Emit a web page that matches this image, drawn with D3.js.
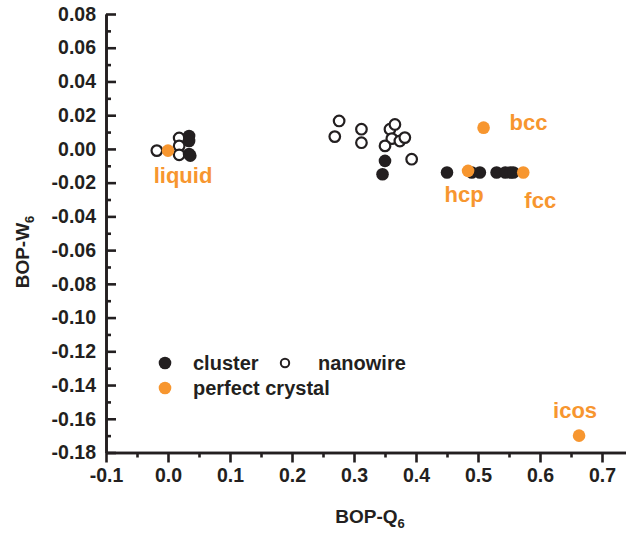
<!DOCTYPE html>
<html>
<head>
<meta charset="utf-8">
<script src="https://cdn.jsdelivr.net/npm/d3@7"></script>
<style>
  html, body { margin: 0; padding: 0; background: #fff; }
  svg { display: block; font-family: "Liberation Sans", Arial, sans-serif; font-weight: bold; }
</style>
</head>
<body>
<svg id="chart" width="626" height="535"></svg>
<script>
// Bond-orientational order parameters: Q6 (x) vs W6 (y)
const clusterQ6 = [0.034, 0.034, 0.034, 0.036, 0.350, 0.346, 0.450, 0.490, 0.503, 0.530, 0.544, 0.552, 0.557];
const clusterW6 = [0.0077, 0.0047, -0.0030, -0.0040, -0.0071, -0.0150, -0.0140, -0.0140, -0.0140, -0.0140, -0.0140, -0.0140, -0.0140];

const nanowireQ6 = [-0.018, 0.018, 0.018, 0.018, 0.276, 0.269, 0.312, 0.312, 0.358, 0.366, 0.361, 0.350, 0.374, 0.382, 0.393];
const nanowireW6 = [-0.0010, 0.0065, 0.0018, -0.0035, 0.0166, 0.0073, 0.0117, 0.0037, 0.0117, 0.0145, 0.0061, 0.0018, 0.0047, 0.0067, -0.0061];

const crystalNames = ["liquid", "hcp", "fcc", "bcc", "icos"];
const crystalQ6 = [0.000, 0.484, 0.573, 0.509, 0.663];
const crystalW6 = [-0.0010, -0.0130, -0.0140, 0.0126, -0.1700];

const xTicks = [-0.1, 0.0, 0.1, 0.2, 0.3, 0.4, 0.5, 0.6, 0.7];
const xTickLabels = ["-0.1", "0.0", "0.1", "0.2", "0.3", "0.4", "0.5", "0.6", "0.7"];
const xMinorTicks = [-0.05, 0.05, 0.15, 0.25, 0.35, 0.45, 0.55, 0.65];
const yTicks = [0.08, 0.06, 0.04, 0.02, 0.00, -0.02, -0.04, -0.06, -0.08, -0.10, -0.12, -0.14, -0.16, -0.18];
const yTickLabels = ["0.08", "0.06", "0.04", "0.02", "0.00", "-0.02", "-0.04", "-0.06", "-0.08", "-0.10", "-0.12", "-0.14", "-0.16", "-0.18"];
const yMinorTicks = [0.07, 0.05, 0.03, 0.01, -0.01, -0.03, -0.05, -0.07, -0.09, -0.11, -0.13, -0.15, -0.17];

const legendLabels = ["cluster", "nanowire", "perfect crystal"];

const INK = "#231f20";
const ORANGE = "#f7962f";

const svg = d3.select("#chart");

const x = d3.scaleLinear().domain([-0.1, 0.74]).range([106, 626.8]);
const y = d3.scaleLinear().domain([-0.18, 0.08]).range([452.5, 14]);

// ---- axes ----
const xAxis = d3.axisBottom(x)
  .tickValues(xTicks)
  .tickFormat((d, i) => xTickLabels[i])
  .tickSizeInner(10).tickSizeOuter(0).tickPadding(6);
const xMinor = d3.axisBottom(x).tickValues(xMinorTicks).tickFormat("").tickSizeInner(5).tickSizeOuter(0);

const yAxis = d3.axisLeft(y)
  .tickValues(yTicks)
  .tickFormat((d, i) => yTickLabels[i])
  .tickSizeInner(-10).tickSizeOuter(0).tickPadding(10);
const yMinor = d3.axisLeft(y).tickValues(yMinorTicks).tickFormat("").tickSizeInner(-5).tickSizeOuter(0);

function styleAxis(g) {
  g.selectAll("path.domain").attr("stroke", INK).attr("stroke-width", 2.6);
  g.selectAll(".tick line").attr("stroke", INK).attr("stroke-width", 2.6);
  g.selectAll(".tick text")
    .attr("fill", INK)
    .style("font-family", "'Liberation Sans', Arial, sans-serif")
    .style("font-weight", "bold")
    .style("font-size", "19.5px");
}

svg.append("g").attr("transform", `translate(0,${y(-0.18)})`).call(xMinor).call(styleAxis);
svg.append("g").attr("transform", `translate(0,${y(-0.18)})`).call(xAxis).call(styleAxis);
svg.append("g").attr("transform", `translate(${x(-0.1)},0)`).call(yMinor).call(styleAxis);
svg.append("g").attr("transform", `translate(${x(-0.1)},0)`).call(yAxis).call(styleAxis);

// ---- axis titles ----
const xTitle = svg.append("text")
  .attr("x", 370).attr("y", 523)
  .attr("text-anchor", "middle")
  .attr("fill", INK).style("font-size", "19px");
xTitle.append("tspan").text("BOP-Q");
xTitle.append("tspan").attr("dy", 5).style("font-size", "13px").text("6");

const yTitle = svg.append("text")
  .attr("transform", "translate(29,252) rotate(-90)")
  .attr("text-anchor", "middle")
  .attr("fill", INK).style("font-size", "19px");
yTitle.append("tspan").text("BOP-W");
yTitle.append("tspan").attr("dy", 5).style("font-size", "13px").text("6");

// ---- points ----
const clusterData = clusterQ6.map((q, i) => ({ q, w: clusterW6[i] }));
const nanowireData = nanowireQ6.map((q, i) => ({ q, w: nanowireW6[i] }));
const crystalData = crystalQ6.map((q, i) => ({ q, w: crystalW6[i], name: crystalNames[i] }));

svg.append("g").selectAll("circle").data(nanowireData).join("circle")
  .attr("cx", d => x(d.q)).attr("cy", d => y(d.w)).attr("r", 5.3)
  .attr("fill", "#fff").attr("stroke", INK).attr("stroke-width", 2.2);

svg.append("g").selectAll("circle").data(clusterData).join("circle")
  .attr("cx", d => x(d.q)).attr("cy", d => y(d.w)).attr("r", 6.3)
  .attr("fill", INK);

svg.append("g").selectAll("circle").data(crystalData).join("circle")
  .attr("cx", d => x(d.q)).attr("cy", d => y(d.w)).attr("r", 6.3)
  .attr("fill", ORANGE);

// crystal structure labels, offset from their points
const labelOffset = {
  liquid: [15, 32],
  hcp: [-4, 31],
  fcc: [17, 35],
  bcc: [45, 2],
  icos: [-4, -18]
};

svg.append("g").selectAll("text").data(crystalData).join("text")
  .attr("x", d => x(d.q) + labelOffset[d.name][0])
  .attr("y", d => y(d.w) + labelOffset[d.name][1])
  .attr("text-anchor", "middle")
  .attr("fill", ORANGE)
  .style("font-size", "22px")
  .text(d => d.name);

// ---- legend ----
const legend = svg.append("g");
legend.append("circle").attr("cx", 165).attr("cy", 363).attr("r", 6.3).attr("fill", INK);
legend.append("text").attr("x", 193).attr("y", 370).attr("fill", INK).style("font-size", "20px").text(legendLabels[0]);
legend.append("circle").attr("cx", 285).attr("cy", 363).attr("r", 4.2)
  .attr("fill", "#fff").attr("stroke", INK).attr("stroke-width", 2);
legend.append("text").attr("x", 318).attr("y", 370).attr("fill", INK).style("font-size", "20px").text(legendLabels[1]);
legend.append("circle").attr("cx", 165).attr("cy", 388).attr("r", 6.3).attr("fill", ORANGE);
legend.append("text").attr("x", 193).attr("y", 395).attr("fill", INK).style("font-size", "20px").text(legendLabels[2]);
</script>
</body>
</html>
